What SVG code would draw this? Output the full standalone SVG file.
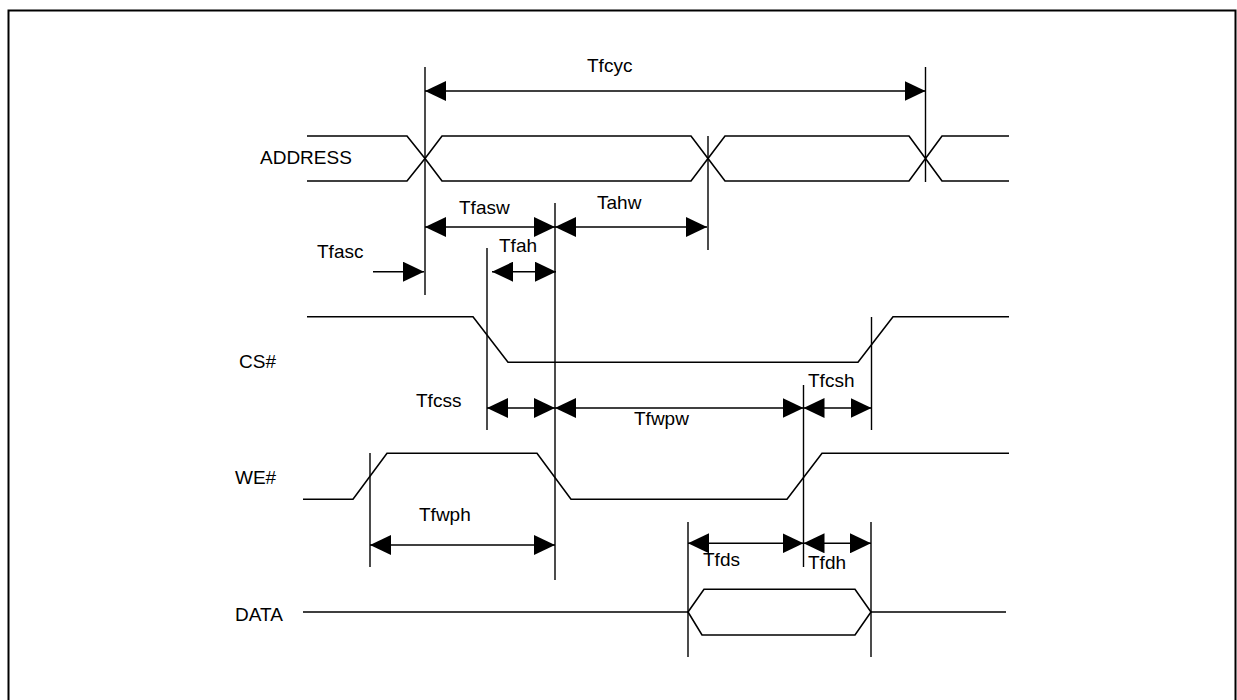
<svg xmlns="http://www.w3.org/2000/svg" width="1237" height="700" viewBox="0 0 1237 700">
<style>
.sig{fill:none;stroke:#000;stroke-width:1.6;stroke-linejoin:miter}
.mk{fill:none;stroke:#000;stroke-width:1.4}
.dim{fill:none;stroke:#000;stroke-width:1.5;marker-start:url(#ah);marker-end:url(#ah)}
.dim1{fill:none;stroke:#000;stroke-width:1.5;marker-end:url(#ah)}
text{font-family:"Liberation Sans",Arial,sans-serif;font-size:19px;fill:#000}
</style>
<defs>
<marker id="ah" markerUnits="userSpaceOnUse" markerWidth="21" markerHeight="20" refX="21" refY="10" orient="auto-start-reverse" viewBox="0 0 21 20">
<path d="M0,0 L21,10 L0,20 z" fill="#000"/>
</marker>
</defs>
<rect width="1237" height="700" fill="#fff"/>
<path d="M8.5,720 L8.5,10.5 L1235.5,10.5 L1235.5,720" fill="none" stroke="#000" stroke-width="2"/>

<g id="address">
<text x="260" y="164">ADDRESS</text>
<path class="sig" d="M307,136 L407,136 L425,158.5 L407,181 L307,181"/>
<path class="sig" d="M425,158.5 L442,136 L691,136 L708,158.5 L691,181 L442,181 Z"/>
<path class="sig" d="M708,158.5 L725,136 L909,136 L925.5,158.5 L909,181 L725,181 Z"/>
<path class="sig" d="M925.5,158.5 L942,136 L1009,136 M925.5,158.5 L942,181 L1009,181"/>
</g>
<g id="cs">
<text x="239" y="368">CS#</text>
<path class="sig" d="M307,316.7 L473,316.7 L508,362.3 L858,362.3 L893,316.7 L1009,316.7"/>
</g>
<g id="we">
<text x="235" y="484">WE#</text>
<path class="sig" d="M303,499.3 L353,499.3 L387,453.3 L537,453.3 L571,499.3 L787,499.3 L822,453.3 L1009,453.3"/>
</g>
<g id="data">
<text x="235" y="621">DATA</text>
<path class="sig" d="M303,612 L688,612 M871,612 L1006,612"/>
<path class="sig" d="M688,612 L704,589.3 L855,589.3 L871,612 L855,635 L702,635 Z"/>
</g>

<g id="connectors">
<path class="mk" d="M425,67 V295 M925.5,67 V182 M708,136 V250 M555,203 V580 M487,248 V430 M803.5,385 V567 M871.5,317 V430 M370,453 V567 M688,522 V657 M871,522 V657"/>
<path class="dim" d="M425,91 H925.5"/>
<path class="dim" d="M425,227 H555"/>
<path class="dim" d="M555,227 H707"/>
<path class="dim1" d="M373,271.7 H424"/>
<path class="dim" d="M492,271.7 H556"/>
<path class="dim" d="M487,408 H555"/>
<path class="dim" d="M555,408 H803.5"/>
<path class="dim" d="M803.5,408 H871.5"/>
<path class="dim" d="M370,545 H555"/>
<path class="dim" d="M688,543.3 H803.5"/>
<path class="dim" d="M803.5,543.3 H871"/>
</g>

<g id="labels">
<text x="587" y="72">Tfcyc</text>
<text x="459" y="214">Tfasw</text>
<text x="597" y="209">Tahw</text>
<text x="317" y="258">Tfasc</text>
<text x="499" y="252">Tfah</text>
<text x="416" y="407">Tfcss</text>
<text x="634" y="425">Tfwpw</text>
<text x="808" y="387">Tfcsh</text>
<text x="419" y="521">Tfwph</text>
<text x="703" y="566">Tfds</text>
<text x="808" y="569">Tfdh</text>
</g>
</svg>
